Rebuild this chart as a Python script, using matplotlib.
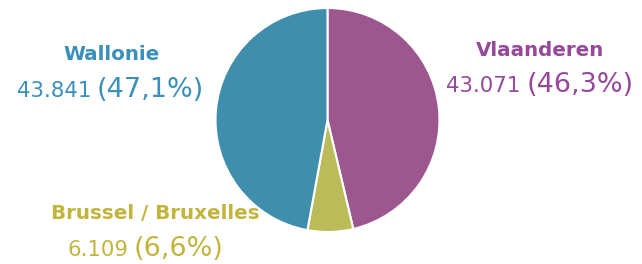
import matplotlib
matplotlib.use("Agg")
import matplotlib.pyplot as plt

regions = ["Vlaanderen", "Brussel / Bruxelles", "Wallonie"]
values = [43071, 6109, 43841]
value_labels = ["43.071", "6.109", "43.841"]
pct_labels = ["(46,3%)", "(6,6%)", "(47,1%)"]
colors = ["#9c578f", "#bcbb5a", "#3f8fac"]
text_colors = ["#96489a", "#c2b53e", "#3a8fbb"]

plt.rcParams['font.family'] = ['DejaVu Sans']

W, H = 642, 264
fig = plt.figure(figsize=(W / 100, H / 100), dpi=100)

# pie centre ~ (327, 120) px, radius ~112 px
cx, cy, r = 327.5, 120, 112
ax = fig.add_axes([(cx - r) / W, (H - cy - r) / H, 2 * r / W, 2 * r / H])
ax.pie(values, colors=colors, startangle=90, counterclock=False,
       wedgeprops=dict(edgecolor="white", linewidth=1.5))
ax.set_xlim(-1, 1)
ax.set_ylim(-1, 1)
ax.set_aspect("equal")
ax.axis("off")

# label layout: (centre x of name, name baseline y, number right x, pct left x, line 2 baseline y)
layout = {
    "Vlaanderen": (540, 56, 520, 527, 92),
    "Brussel / Bruxelles": (155, 219, 128, 134, 256),
    "Wallonie": (112, 60, 91, 97, 97),
}

for name, vlab, plab, tc in zip(regions, value_labels, pct_labels, text_colors):
    x, y1, xr, xl, y2 = layout[name]
    fig.text(x / W, 1 - y1 / H, name, ha="center", va="baseline",
             fontsize=14.3, fontweight="bold", color=tc)
    fig.text(xr / W, 1 - y2 / H, vlab, ha="right", va="baseline",
             fontsize=15.3, color=tc)
    fig.text(xl / W, 1 - y2 / H, plab, ha="left", va="baseline",
             fontsize=19.5, color=tc)

fig.savefig("out.png", dpi=100)
